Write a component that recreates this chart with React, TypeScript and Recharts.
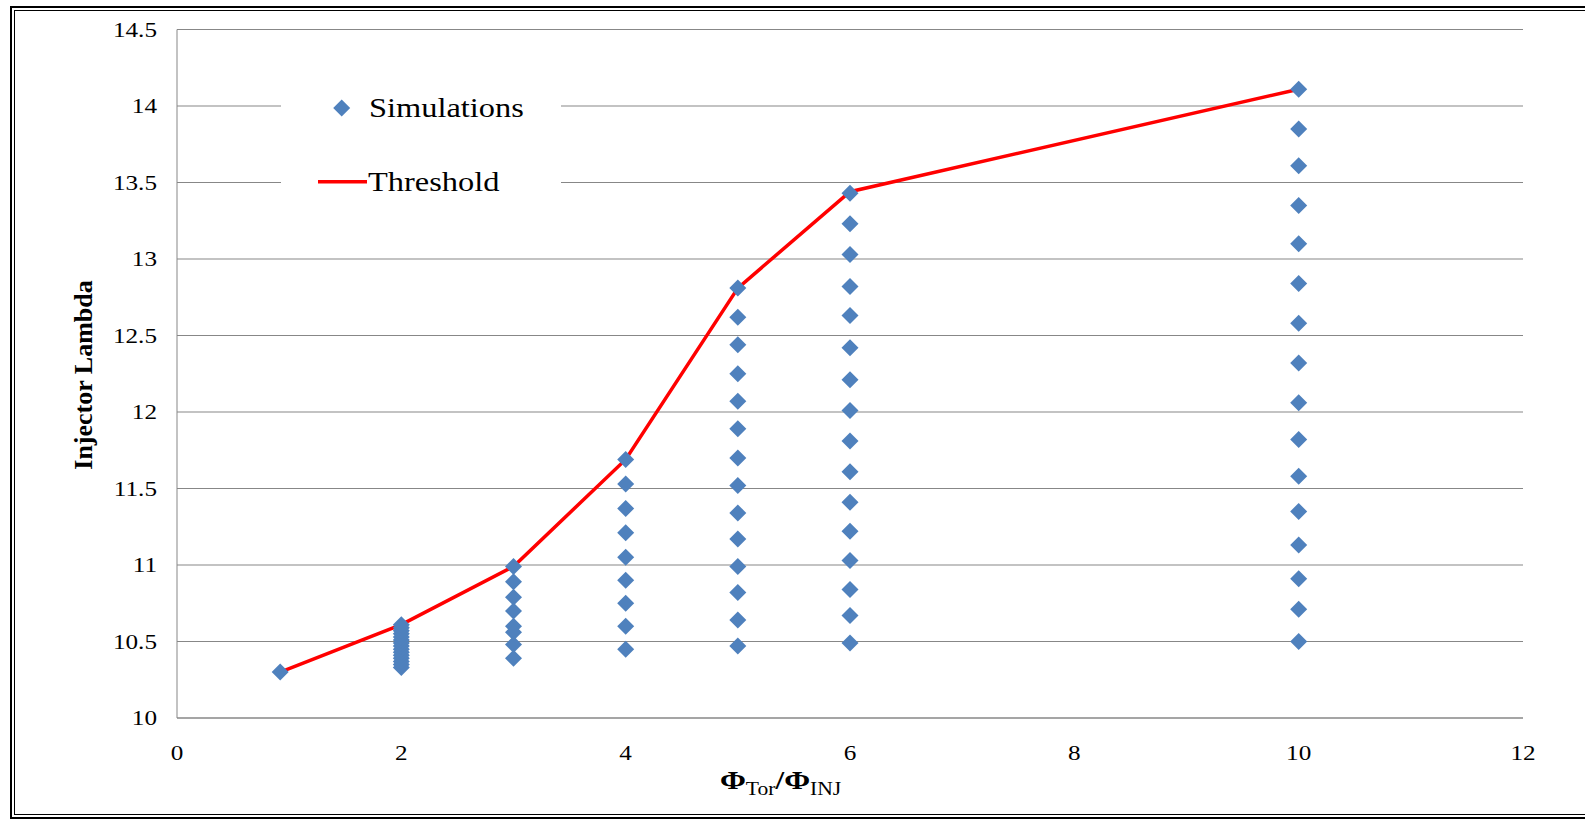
import React from 'react';
import { ComposedChart, XAxis, YAxis, CartesianGrid, Scatter, Line, Legend } from 'recharts';

const FONT = '"Liberation Serif", "Times New Roman", serif';
const BLUE = '#4F81BD';
const RED = '#FF0000';
const GRID = '#878787';

// Axis ticks
const xTicks = [0, 2, 4, 6, 8, 10, 12];
const yTicks = [10, 10.5, 11, 11.5, 12, 12.5, 13, 13.5, 14, 14.5];

// Simulated injector lambda values, grouped by flux ratio
const ratios = [0.92, 2, 3, 4, 5, 6, 10];
const lambdaAt092 = [10.3];
const lambdaAt2 = [10.33, 10.35, 10.37, 10.39, 10.41, 10.43, 10.45, 10.47, 10.49, 10.51, 10.53, 10.55, 10.57, 10.59, 10.61];
const lambdaAt3 = [10.99, 10.89, 10.79, 10.7, 10.6, 10.56, 10.48, 10.39];
const lambdaAt4 = [11.69, 11.53, 11.37, 11.21, 11.05, 10.9, 10.75, 10.6, 10.45];
const lambdaAt5 = [12.81, 12.62, 12.44, 12.25, 12.07, 11.89, 11.7, 11.52, 11.34, 11.17, 10.99, 10.82, 10.64, 10.47];
const lambdaAt6 = [13.43, 13.23, 13.03, 12.82, 12.63, 12.42, 12.21, 12.01, 11.81, 11.61, 11.41, 11.22, 11.03, 10.84, 10.67, 10.49];
const lambdaAt10 = [14.11, 13.85, 13.61, 13.35, 13.1, 12.84, 12.58, 12.32, 12.06, 11.82, 11.58, 11.35, 11.13, 10.91, 10.71, 10.5];
const lambdaGroups = [lambdaAt092, lambdaAt2, lambdaAt3, lambdaAt4, lambdaAt5, lambdaAt6, lambdaAt10];

// Threshold curve
const thresholdRatio = [0.92, 2, 3, 4, 5, 6, 10];
const thresholdLambda = [10.3, 10.61, 10.99, 11.69, 12.81, 13.44, 14.11];

const simulationData = ratios.flatMap((r, i) => lambdaGroups[i].map((v) => ({ x: r, y: v })));
const thresholdData = thresholdRatio.map((r, i) => ({ x: r, y: thresholdLambda[i] }));

const Diamond = (props: any) => {
  const { cx, cy } = props;
  if (cx == null || cy == null) return null;
  const h = 8.5;
  return <path d={`M${cx},${cy - h}L${cx + h},${cy}L${cx},${cy + h}L${cx - h},${cy}Z`} fill={BLUE} />;
};

const YTick = (props: any) => {
  const { x, y, payload } = props;
  return (
    <text
      x={0}
      y={0}
      transform={`translate(${x},${y}) scale(1.2,1)`}
      textAnchor="end"
      dominantBaseline="central"
      fontFamily={FONT}
      fontSize={21}
      fill="#000"
    >
      {payload.value}
    </text>
  );
};

const XTick = (props: any) => {
  const { x, y, payload } = props;
  return (
    <text
      x={0}
      y={0}
      transform={`translate(${x},${y}) scale(1.2,1)`}
      textAnchor="middle"
      dominantBaseline="central"
      fontFamily={FONT}
      fontSize={21}
      fill="#000"
    >
      {payload.value}
    </text>
  );
};

const XTitle = () => (
  <text x={0} y={0} transform="translate(720,789) scale(1.2,1)" fontFamily={FONT} fill="#000">
    <tspan fontSize={26} fontWeight="bold">Φ</tspan>
    <tspan fontSize={18} dy={6}>Tor</tspan>
    <tspan fontSize={26} fontWeight="bold" dy={-6}>/</tspan>
    <tspan fontSize={26} fontWeight="bold">Φ</tspan>
    <tspan fontSize={18} dy={6}>INJ</tspan>
  </text>
);

const YTitle = () => (
  <text
    x={0}
    y={0}
    transform="translate(83,375) rotate(-90)"
    textAnchor="middle"
    dominantBaseline="central"
    fontFamily={FONT}
    fontSize={26}
    fontWeight="bold"
    fill="#000"
  >
    Injector Lambda
  </text>
);

const legendText: React.CSSProperties = {
  position: 'absolute',
  left: 88,
  fontFamily: FONT,
  fontSize: 27,
  lineHeight: 1,
  whiteSpace: 'nowrap',
  color: '#000',
  transform: 'translateY(-50%) scaleX(1.2)',
  transformOrigin: 'left center',
};

const LegendBox = () => (
  <div style={{ position: 'relative', width: '100%', height: '100%', background: '#fff' }}>
    <svg width={280} height={160} style={{ position: 'absolute', left: 0, top: 0 }}>
      <path d="M60.7,37.5L69.2,46L60.7,54.5L52.2,46Z" fill={BLUE} />
      <line x1={37} x2={86} y1={119.7} y2={119.7} stroke={RED} strokeWidth={3.5} />
    </svg>
    <div style={{ ...legendText, top: 46 }}>Simulations</div>
    <div style={{ ...legendText, top: 120, left: 87 }}>Threshold</div>
  </div>
);

export default function App() {
  return (
    <div style={{ position: 'absolute', left: 0, top: 0, width: 1585, height: 821, overflow: 'hidden', background: '#fff' }}>
      <div style={{ position: 'absolute', left: 10, top: 6, width: 1600, height: 813, border: '2px solid #000', boxSizing: 'border-box' }} />
      <div style={{ position: 'absolute', left: 14, top: 10, width: 1600, height: 805, border: '1px solid #000', boxSizing: 'border-box' }} />
      <div style={{ position: 'absolute', left: 0, top: 0 }}>
        <ComposedChart width={1585} height={821} margin={{ top: 29.5, right: 62, bottom: 73, left: 0 }}>
          <CartesianGrid vertical={false} stroke={GRID} strokeWidth={1} />
          <XAxis
            type="number"
            dataKey="x"
            domain={[0, 12]}
            ticks={xTicks}
            height={30}
            axisLine={{ stroke: GRID }}
            tickLine={false}
            tickSize={0}
            tickMargin={35}
            tick={<XTick />}
            label={{ content: () => <XTitle /> }}
            allowDuplicatedCategory={false}
          />
          <YAxis
            type="number"
            domain={[10, 14.5]}
            ticks={yTicks}
            width={177}
            axisLine={{ stroke: GRID }}
            tickLine={false}
            tickSize={0}
            tickMargin={20}
            tick={<YTick />}
            label={{ content: () => <YTitle /> }}
          />
          <Legend
            layout="vertical"
            verticalAlign="middle"
            align="center"
            content={() => <LegendBox />}
            wrapperStyle={{ position: 'absolute', left: 281, top: 62, width: 280, height: 160 }}
          />
          <Line
            data={thresholdData}
            dataKey="y"
            type="linear"
            stroke={RED}
            strokeWidth={3.5}
            dot={false}
            activeDot={false}
            isAnimationActive={false}
          />
          <Scatter data={simulationData} dataKey="y" shape={<Diamond />} isAnimationActive={false} />
        </ComposedChart>
      </div>
    </div>
  );
}
